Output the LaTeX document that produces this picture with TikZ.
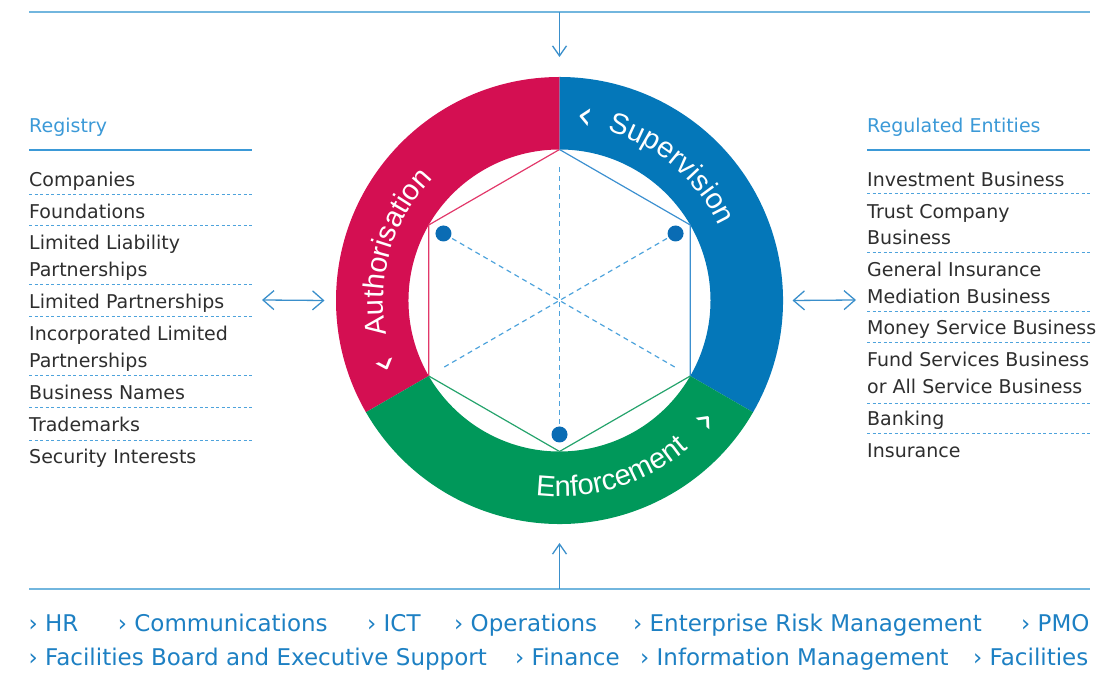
\documentclass[tikz,border=0pt]{standalone}
\usepackage{fontspec}
\setmainfont{DejaVu Sans}
\newfontfamily\ringfont{Liberation Sans}
\usepackage{tikz}
\usetikzlibrary{arrows.meta, positioning, calc, decorations.text}

\definecolor{authred}{HTML}{D40F52}
\definecolor{supblue}{HTML}{0477B9}
\definecolor{enfgreen}{HTML}{00985A}
\definecolor{dotblue}{HTML}{0A6CB4}
\definecolor{headblue}{HTML}{3B99D7}
\definecolor{botblue}{HTML}{1D80C3}
\definecolor{linelight}{HTML}{72B6DE}
\definecolor{arrowblue}{HTML}{3A8FCB}
\definecolor{dashblue}{HTML}{4EA3DC}
\definecolor{txtgray}{HTML}{2E2E2E}
\definecolor{hexred}{HTML}{E2386A}
\definecolor{hexblue}{HTML}{3C90D0}
\definecolor{hexgreen}{HTML}{25A36C}

\newcommand{\txtsize}{\fontsize{19}{26.7}\selectfont}
\newcommand{\botsize}{\fontsize{23}{28}\selectfont}
\newcommand{\ringsize}{\ringfont\fontsize{29}{32}\selectfont}
\newcommand{\chevsize}{\fontsize{40}{40}\selectfont}
\newcommand{\twoline}[2]{\begin{tabular}[t]{@{}l@{}}#1\\#2\end{tabular}}

\begin{document}
\begin{tikzpicture}[x=1pt, y=1pt,
    head/.style={anchor=base west, inner sep=0pt, text=headblue, font=\txtsize},
    item/.style={anchor=base west, inner sep=0pt, text=txtgray, font=\txtsize},
    bot/.style={anchor=base west, inner sep=0pt, text=botblue, font=\botsize},
    chev/.style={inner sep=0pt, text=white, font=\chevsize},
    rule/.style={headblue, line width=1.5pt},
    sepline/.style={dashblue, line width=1pt, dash pattern=on 3pt off 2.5pt},
    bigline/.style={linelight, line width=2.5pt},
    diam/.style={dashblue, line width=1.2pt, dash pattern=on 5pt off 4pt},
    flow/.style={arrowblue, line width=1.3pt, -{Straight Barb[length=10pt,width=14pt]}},
    both/.style={arrowblue, line width=1.3pt, {Straight Barb[length=11pt,width=19pt]}-{Straight Barb[length=11pt,width=19pt]}},
    ringtxt/.style={decorate, decoration={text along path, text align=center, text color=white}}]
  \useasboundingbox (0,0) rectangle (1118,684);

  % Top bar
  \draw[bigline] (29,672) -- (1090,672);
  \coordinate (topmid) at (559.5,672);
  \coordinate (toptip) at (559.5,627);
  \draw[flow] (topmid) -- (toptip);

  % Bottom bar
  \draw[bigline] (29,95) -- (1090,95);
  \coordinate (botmid) at (559.5,95);
  \coordinate (bottip) at (559.5,141);
  \draw[flow] (botmid) -- (bottip);

  % Wheel
  \begin{scope}[shift={(559.5,383.5)}]
    \fill[authred] (90:223.5) arc[start angle=90, end angle=210, radius=223.5]
      -- (210:151) arc[start angle=210, end angle=90, radius=151] -- cycle;
    \fill[supblue] (-30:223.5) arc[start angle=-30, end angle=90, radius=223.5]
      -- (90:151) arc[start angle=90, end angle=-30, radius=151] -- cycle;
    \fill[enfgreen] (210:223.5) arc[start angle=210, end angle=330, radius=223.5]
      -- (330:151) arc[start angle=330, end angle=210, radius=151] -- cycle;

    \foreach \a/\n in {90/t, 150/tl, 210/bl, 270/b, 330/br, 30/tr}
      \coordinate (h\n) at (\a:151);
    \draw[hexred, line width=1.2pt] (ht) -- (htl) -- (hbl);
    \draw[hexblue, line width=1.2pt] (ht) -- (htr) -- (hbr);
    \draw[hexgreen, line width=1.2pt] (hbl) -- (hb) -- (hbr);

    \foreach \a in {30, 90, 150}
      \draw[diam] (\a:133) -- (\a+180:133);
    \foreach \a in {150, 30, 270}
      \fill[dotblue] (\a:134) circle (8);

    \path[ringtxt, decoration={text={|\ringsize|Authorisation}}]
      (223.5:176) arc[start angle=223.5, end angle=103.5, radius=176];
    \path[ringtxt, decoration={text={|\ringsize|Supervision}}]
      (109.6:176) arc[start angle=109.6, end angle=-10.4, radius=176];
    \path[ringtxt, decoration={text={|\ringsize|Enforcement}}]
      (227:196) arc[start angle=227, end angle=347, radius=196];

    \node[chev, rotate=110] at (200.5:184) {‹};
    \node[chev, rotate=-8.5] at (82:184) {‹};
    \node[chev, rotate=50] at (320.5:191) {›};
    \coordinate (ringL) at (180:235);
    \coordinate (ringR) at (0:233);
  \end{scope}

  % Registry
  \node[head] (reg) at (29,551.7) {Registry};
  \draw[rule] (29,534) -- (252,534);
  \node[item] at (29,497.3) {Companies};
  \node[item] at (29,465.7) {Foundations};
  \node[item] at (29,434) {\twoline{Limited Liability}{Partnerships}};
  \node[item] at (29,375.7) {Limited Partnerships};
  \node[item] at (29,343.3) {\twoline{Incorporated Limited}{Partnerships}};
  \node[item] at (29,284) {Business Names};
  \node[item] at (29,252.3) {Trademarks};
  \node[item] at (29,220.7) {Security Interests};
  \foreach \y in {489.7, 458.3, 399, 367, 308, 276.3, 243.3}
    \draw[sepline] (29,\y) -- (252,\y);
  \coordinate (regR) at (262,384);
  \draw[both] (regR) -- (ringL);

  % Regulated Entities
  \node[head] (ent) at (867,551.7) {Regulated Entities};
  \draw[rule] (867,534) -- (1090,534);
  \node[item] at (867,497.3) {Investment Business};
  \node[item] at (867,465.7) {\twoline{Trust Company}{Business}};
  \node[item] at (867,407.3) {\twoline{General Insurance}{Mediation Business}};
  \node[item] at (867,349) {Money Service Business};
  \node[item] at (867,317.3) {\twoline{Fund Services Business}{or All Service Business}};
  \node[item] at (867,258) {Banking};
  \node[item] at (867,226.3) {Insurance};
  \foreach \y in {490.7, 431.3, 372.3, 341.3, 280.7, 250}
    \draw[sepline] (867,\y) -- (1090,\y);
  \coordinate (entL) at (856,384);
  \draw[both] (ringR) -- (entL);

  % Support functions
  \foreach \x/\t [count=\i] in {28.5/HR, 117.7/Communications, 367/ICT,
      454/Operations, 633/Enterprise Risk Management, 1021/PMO}
    \node[bot] (fa\i) at (\x,52.3) {› \t};
  \foreach \x/\t [count=\i] in {28.5/Facilities Board and Executive Support,
      515/Finance, 640/Information Management, 973/Facilities}
    \node[bot] (fb\i) at (\x,18) {› \t};
\end{tikzpicture}
\end{document}
